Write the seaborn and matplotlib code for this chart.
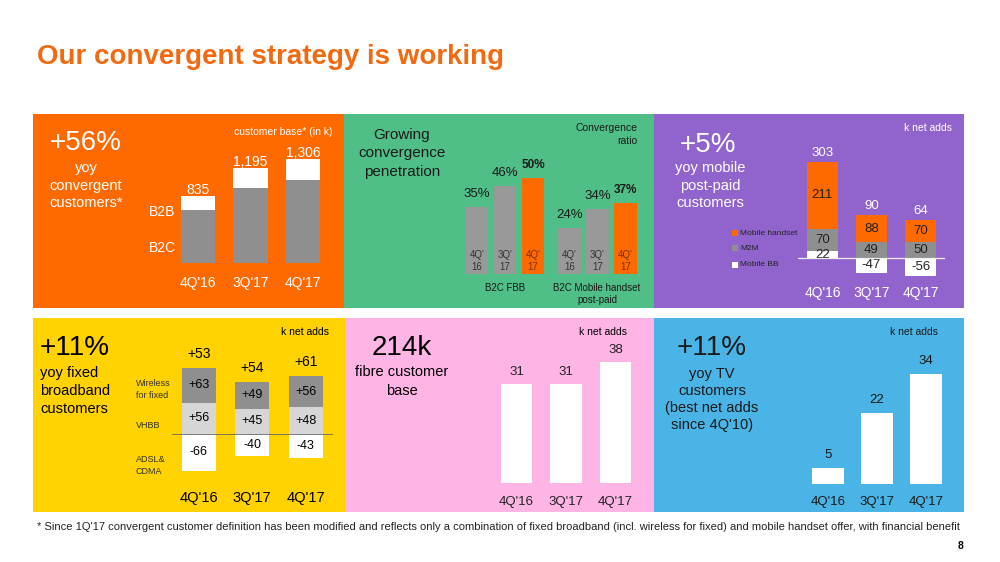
import matplotlib
matplotlib.use('Agg')
import matplotlib.pyplot as plt
import seaborn as sns
from matplotlib.patches import Rectangle

# ---- data ----
quarters = ["4Q'16", "3Q'17", "4Q'17"]

# convergent customer base (k)
conv_total = [835, 1195, 1306]
conv_b2c = [670, 945, 1040]

# convergence ratio (%)
ratio_top = ["4Q'", "3Q'", "4Q'"]
ratio_bottom = ["16", "17", "17"]
fbb_ratio = [35, 46, 50]
mobile_ratio = [24, 34, 37]

# mobile post-paid net adds (k)
mob_handset = [211, 88, 70]
mob_m2m = [70, 49, 50]
mob_bb = [22, -47, -56]
mob_total = [303, 90, 64]

# fixed broadband net adds (k)
fbb_wff = [63, 49, 56]
fbb_vhbb = [56, 45, 48]
fbb_adsl = [-66, -40, -43]
fbb_total = ["+53", "+54", "+61"]

# fibre and TV net adds (k)
fibre_adds = [31, 31, 38]
tv_adds = [5, 22, 34]

# colours
ORANGE = '#FF6A00'
GREEN = '#50BE87'
PURPLE = '#9164CD'
YELLOW = '#FFD200'
PINK = '#FFB4E6'
BLUE = '#4BB4E6'
GRAY = '#8F8F8F'
LGRAY = '#D6D6D6'

sns.set_theme(style='white')
plt.rcParams['font.family'] = ['Liberation Sans', 'DejaVu Sans']

W, H = 1000, 562
fig = plt.figure(figsize=(10, 5.62), dpi=100)

NOEDGE = dict(edgecolor='none', linewidth=0, saturation=1, errorbar=None)


def rect(x0, y0, x1, y1):
    return [x0 / W, 1 - y1 / H, (x1 - x0) / W, (y1 - y0) / H]


def txt(x, y, s, size=10, color='black', ha='center', **kw):
    fig.text(x / W, 1 - y / H, s, fontsize=size, color=color, ha=ha, va='center', **kw)


def panel(x0, y0, x1, y1, color):
    fig.add_artist(Rectangle((x0 / W, 1 - y1 / H), (x1 - x0) / W, (y1 - y0) / H,
                             transform=fig.transFigure, facecolor=color,
                             edgecolor='none', zorder=0))


def chart_axes(cx0, cx1, zero_y, scale, ymin, ymax):
    # cx0/cx1 = pixel positions of xlim (-0.5, 2.5), scale = px per unit
    top = zero_y - ymax * scale
    bottom = zero_y - ymin * scale
    ax = fig.add_axes(rect(cx0, top, cx1, bottom))
    return ax


def finish(ax, ymin, ymax, tick_color='black', size=10, pad=8, ticks=True):
    ax.set_facecolor('none')
    ax.set_xlim(-0.5, 2.5)
    ax.set_ylim(ymin, ymax)
    ax.set(xlabel='', ylabel='')
    ax.set_yticks([])
    sns.despine(ax=ax, left=True, bottom=True)
    if ticks:
        ax.tick_params(axis='x', length=0, pad=pad, labelsize=size, labelcolor=tick_color)
    else:
        ax.set_xticks([])


def lab(ax, x, y, s, dy=0, size=9.5, color='black', **kw):
    ax.annotate(s, (x, y), xytext=(0, dy * 0.72), textcoords='offset points',
                ha='center', va='center', fontsize=size, color=color, **kw)


# ---- title / footer ----
txt(37, 57, 'Our convergent strategy is working', size=20, color='#F26A10',
    ha='left', fontweight='bold')
txt(37, 527, "* Since 1Q'17 convergent customer definition has been modified and reflects only a "
             "combination of fixed broadband (incl. wireless for fixed) and mobile handset offer, "
             "with financial benefit", size=8, color='#222222', ha='left')
txt(964, 546, '8', size=7.5, ha='right', fontweight='bold')

# ---- panel backgrounds ----
panel(33, 114, 344, 308, ORANGE)
panel(344, 114, 654, 308, GREEN)
panel(654, 114, 964, 308, PURPLE)
panel(33, 318, 345, 512, YELLOW)
panel(345, 318, 654, 512, PINK)
panel(654, 318, 964, 512, BLUE)

# ---- 1: convergent customers ----
txt(86, 143, '+56%', size=20, color='white')
txt(86, 168, 'yoy', size=10.5, color='white')
txt(86, 186, 'convergent', size=10.5, color='white')
txt(86, 203, 'customers*', size=10.5, color='white')
txt(332, 132, 'customer base* (in k)', size=7.5, color='white', ha='right')
txt(149, 212, 'B2B', size=10, color='white', ha='left')
txt(149, 248, 'B2C', size=10, color='white', ha='left')

ax1 = chart_axes(171.75, 329.25, 263, 0.0798, 0, 1504)
sns.barplot(x=quarters, y=conv_total, color='white', width=0.65, ax=ax1, **NOEDGE)
sns.barplot(x=quarters, y=conv_b2c, color=GRAY, width=0.65, ax=ax1, **NOEDGE)
finish(ax1, 0, 1504, tick_color='white', size=10, pad=9)
for i, v in enumerate(conv_total):
    lab(ax1, i, v, f'{v:,}', dy=6, size=10, color='white')

# ---- 2: convergence ratio ----
DARK = '#1A1A1A'
txt(402, 135, 'Growing', size=11, color=DARK)
txt(402, 153, 'convergence', size=11, color=DARK)
txt(402, 172, 'penetration', size=11, color=DARK)
txt(637, 128, 'Convergence', size=7.5, color=DARK, ha='right')
txt(637, 141, 'ratio', size=7.5, color=DARK, ha='right')
txt(505, 288, 'B2C FBB', size=7, color=DARK)
txt(597, 288, 'B2C Mobile handset', size=7, color=DARK)
txt(597, 300, 'post-paid', size=7, color=DARK)

for cx0, vals in [(463, fbb_ratio), (555.5, mobile_ratio)]:
    ax = chart_axes(cx0, cx0 + 84, 274, 1.92, 0, 62.5)
    sns.barplot(x=quarters, y=vals, hue=quarters, palette=['#999999', '#999999', ORANGE],
                width=0.79, legend=False, ax=ax, **NOEDGE)
    finish(ax, 0, 62.5, ticks=False)
    for i, v in enumerate(vals):
        last = i == len(vals) - 1
        lab(ax, i, v, f'{v}%', dy=13, size=8.5 if last else 9.5, color=DARK,
            fontweight='bold' if last else 'normal')
        inner = '#7A3000' if last else '#333333'
        lab(ax, i, 0, ratio_top[i], dy=19, size=7, color=inner)
        lab(ax, i, 0, ratio_bottom[i], dy=7, size=7, color=inner)

# ---- 3: mobile post-paid ----
txt(708, 145, '+5%', size=20, color='white')
txt(710, 168, 'yoy mobile', size=10.5, color='white')
txt(710, 186, 'post-paid', size=10.5, color='white')
txt(710, 203, 'customers', size=10.5, color='white')
txt(952, 128, 'k net adds', size=7.5, color='white', ha='right')
for y, c, name in [(233, ORANGE, 'Mobile handset'), (248, GRAY, 'M2M'), (265, 'white', 'Mobile BB')]:
    fig.add_artist(Rectangle((732 / W, 1 - (y + 3) / H), 6 / W, 6 / H,
                             transform=fig.transFigure, facecolor=c, edgecolor='none'))
    txt(740, y, name, size=6, color='#222222', ha='left')

bb_pos = [max(b, 0) for b in mob_bb]
m2m_top = [b + m for b, m in zip(bb_pos, mob_m2m)]
hs_top = [t + h for t, h in zip(m2m_top, mob_handset)]
ax3 = chart_axes(798, 945, 258, 0.317, -70, 340)
sns.barplot(x=quarters, y=hs_top, color=ORANGE, width=0.63, ax=ax3, **NOEDGE)
sns.barplot(x=quarters, y=m2m_top, color=GRAY, width=0.63, ax=ax3, **NOEDGE)
sns.barplot(x=quarters, y=mob_bb, color='white', width=0.63, ax=ax3, **NOEDGE)
finish(ax3, -70, 340, tick_color='white', size=10, pad=4)
ax3.axhline(0, color='#EEEEEE', lw=0.9, zorder=5)
for i in range(3):
    lab(ax3, i, hs_top[i], str(mob_total[i]), dy=9, color='white')
    lab(ax3, i, m2m_top[i] + mob_handset[i] / 2, str(mob_handset[i]), color='#222222')
    lab(ax3, i, bb_pos[i] + mob_m2m[i] / 2, str(mob_m2m[i]), color='#222222')
    lab(ax3, i, mob_bb[i] / 2, str(mob_bb[i]), color='#222222')

# ---- 4: fixed broadband ----
txt(40, 348, '+11%', size=20, ha='left')
txt(40, 373, 'yoy fixed', size=10.5, ha='left')
txt(40, 391, 'broadband', size=10.5, ha='left')
txt(40, 409, 'customers', size=10.5, ha='left')
txt(329, 332, 'k net adds', size=7.5, ha='right')
for y, s in [(384, 'Wireless'), (396, 'for fixed'), (426, 'VHBB'), (459, 'ADSL&'), (471, 'CDMA')]:
    txt(136, y, s, size=6.5, color='#333333', ha='left')

wff_top = [v + w for v, w in zip(fbb_vhbb, fbb_wff)]
ax4 = chart_axes(172, 332.5, 434, 0.558, -90, 150)
sns.barplot(x=quarters, y=wff_top, color=GRAY, width=0.64, ax=ax4, **NOEDGE)
sns.barplot(x=quarters, y=fbb_vhbb, color=LGRAY, width=0.64, ax=ax4, **NOEDGE)
sns.barplot(x=quarters, y=fbb_adsl, color='white', width=0.64, ax=ax4, **NOEDGE)
finish(ax4, -90, 150, size=10.5, pad=5)
ax4.axhline(0, color='#666666', lw=0.6, zorder=5)
for i in range(3):
    lab(ax4, i, wff_top[i], fbb_total[i], dy=14, size=10)
    lab(ax4, i, fbb_vhbb[i] + fbb_wff[i] / 2, f'+{fbb_wff[i]}', size=9)
    lab(ax4, i, fbb_vhbb[i] / 2, f'+{fbb_vhbb[i]}', size=9)
    lab(ax4, i, fbb_adsl[i] / 2, str(fbb_adsl[i]), size=9)

# ---- 5: fibre ----
txt(402, 348, '214k', size=20)
txt(402, 372, 'fibre customer', size=10.5)
txt(402, 391, 'base', size=10.5)
txt(627, 332, 'k net adds', size=7.5, ha='right')
ax5 = chart_axes(491.75, 640.25, 483, 3.19, 0, 45)
sns.barplot(x=quarters, y=fibre_adds, color='white', width=0.63, ax=ax5, **NOEDGE)
finish(ax5, 0, 45, tick_color='#222222', size=9.5, pad=9)
for i, v in enumerate(fibre_adds):
    lab(ax5, i, v, str(v), dy=12, color='#222222')

# ---- 6: TV ----
txt(712, 348, '+11%', size=20, color='#1A1A1A')
for y, s in [(374, 'yoy TV'), (391, 'customers'), (408, '(best net adds'), (425, "since 4Q'10)")]:
    txt(712, y, s, size=10.5, color='#1A1A1A')
txt(938, 332, 'k net adds', size=7.5, ha='right', color='#1A1A1A')
ax6 = chart_axes(803.5, 950.5, 484, 3.24, 0, 45)
sns.barplot(x=quarters, y=tv_adds, color='white', width=0.65, ax=ax6, **NOEDGE)
finish(ax6, 0, 45, tick_color='#1A1A1A', size=9.5, pad=8.5)
for i, v in enumerate(tv_adds):
    lab(ax6, i, v, str(v), dy=13, color='#1A1A1A')

fig.savefig('out.png', dpi=100)
